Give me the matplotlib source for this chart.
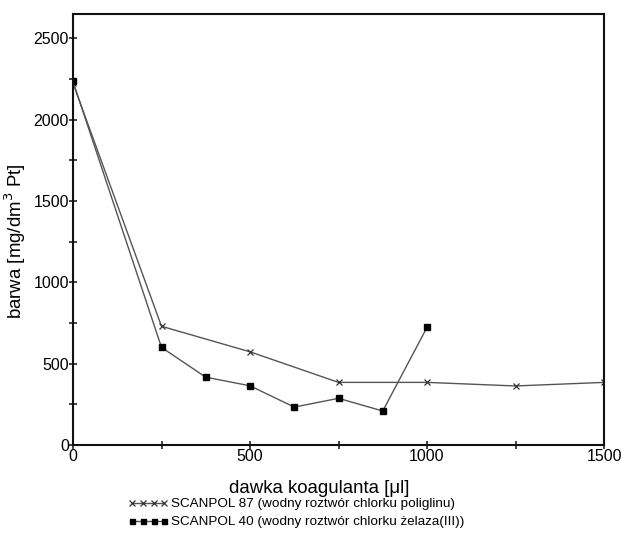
import matplotlib
matplotlib.use("Agg")
import matplotlib.pyplot as plt
from matplotlib.ticker import MultipleLocator

plt.rcParams['font.family'] = ['Liberation Sans', 'DejaVu Sans']

x87 = [0, 250, 500, 750, 1000, 1250, 1500]
y87 = [2225, 730, 573, 385, 385, 363, 385]
x40 = [0, 250, 375, 500, 625, 750, 875, 1000]
y40 = [2235, 600, 417, 364, 233, 287, 209, 723]
label87 = "SCANPOL 87 (wodny roztwór chlorku poliglinu)"
label40 = "SCANPOL 40 (wodny roztwór chlorku żelaza(III))"

fig = plt.figure(figsize=(6.22, 5.36), dpi=100)
ax = fig.add_axes([73/622, 1-445/536, (604-73)/622, (445-14)/536])

ax.plot(x87, y87, color='#555555', lw=1.0, marker='x', ms=5, mec='#333333', mew=0.9, label=label87)
ax.plot(x40, y40, color='#555555', lw=1.0, marker='s', ms=4.5, mfc='black', mec='black', label=label40)

ax.set_xlim(0, 1500)
ax.set_ylim(0, 2650)
ax.xaxis.set_major_locator(MultipleLocator(500))
ax.xaxis.set_minor_locator(MultipleLocator(250))
ax.yaxis.set_major_locator(MultipleLocator(500))
ax.yaxis.set_minor_locator(MultipleLocator(250))
ax.tick_params(which='both', direction='inout', labelsize=11.5, width=1.2, color='#222222', length=6)
ax.tick_params(axis='x', pad=0)
ax.tick_params(axis='y', pad=0)
for s in ax.spines.values():
    s.set_linewidth(1.5)
    s.set_color('#111111')

ax.set_xlabel("dawka koagulanta [μl]", fontsize=13.4)
ax.set_ylabel("barwa [mg/dm$^3$ Pt]", fontsize=13.4)
ax.xaxis.set_label_coords(0.463, -0.082)
ax.yaxis.set_label_coords(-0.085, 0.473)

leg = fig.legend(loc='upper left', bbox_to_anchor=(128/622, 1-498/536), frameon=False,
                 fontsize=9.7, numpoints=4, handlelength=3.0, handletextpad=0.2,
                 labelspacing=0.4, borderpad=0, borderaxespad=0, markerscale=0.8)

fig.savefig("out.png", dpi=100)
